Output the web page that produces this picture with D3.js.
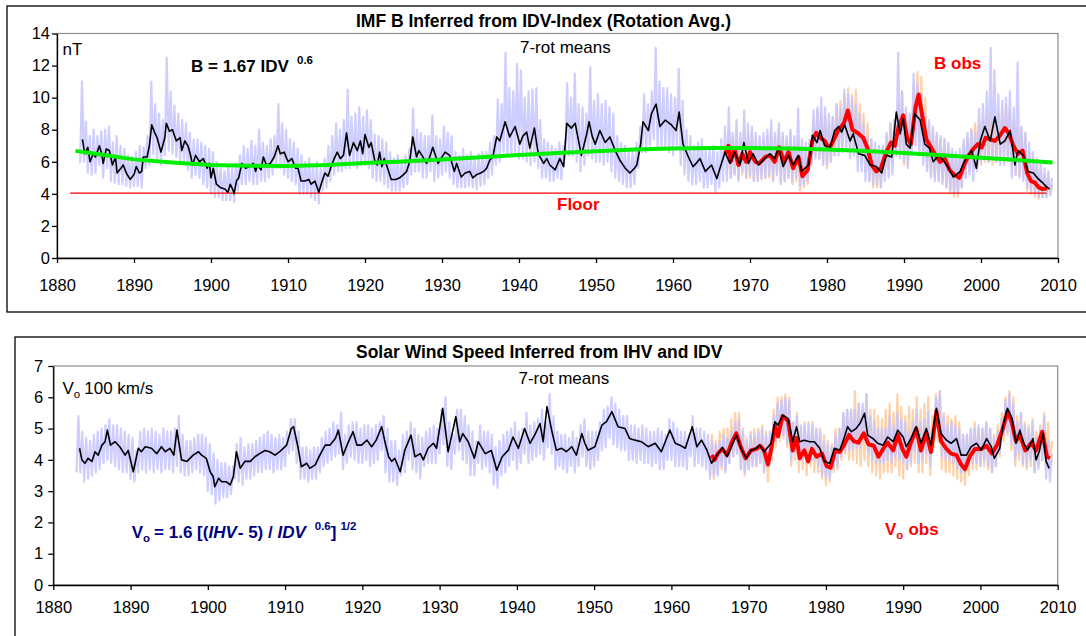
<!DOCTYPE html>
<html><head><meta charset="utf-8">
<script src="https://cdn.jsdelivr.net/npm/d3@7"></script>
<style>
html,body{margin:0;padding:0;background:#fff;}
svg{display:block;font-family:"Liberation Sans",Arial,sans-serif;}
</style></head>
<body><svg id="c" width="1086" height="636"></svg>
<script>
// ---------------- DATA ----------------
const xTicks = [1880,1890,1900,1910,1920,1930,1940,1950,1960,1970,1980,1990,2000,2010];
const yTicksTop = [0,2,4,6,8,10,12,14];
const yTicksBot = [0,1,2,3,4,5,6,7];

// Top: per-rotation inferred B (light blue), half-year steps from 1883.0: low / high
const topBlueStart = 1883;
const topBlueHi = [
 11.0,8.5, 7.6,8.0, 7.6,7.9, 8.0,8.2, 7.2,7.6,
 7.0,6.8, 6.4,6.3, 6.6,7.0, 6.9,7.6, 11.0,9.6,
 9.0,8.6, 12.5,10.4, 9.5,9.0, 8.6,8.4, 7.8,7.4,
 7.4,7.2, 7.0,6.8, 6.6,6.0, 5.6,5.4, 5.8,5.6,
 5.9,6.4, 7.0,6.8, 7.3,7.0, 8.0,7.2, 7.0,7.4,
 7.6,9.6, 8.4,8.0, 7.4,7.2, 6.8,6.4, 6.0,6.2,
 5.8,6.0, 5.6,6.2, 7.0,7.6, 8.4,8.0, 8.6,10.5,
 8.8,9.0, 9.4,8.8, 9.2,8.6, 7.7,7.6, 7.4,7.2,
 6.6,6.2, 6.4,6.0, 6.4,6.8, 9.3,8.0, 7.8,7.6,
 7.6,8.9, 7.6,7.4, 8.2,7.8, 7.6,6.6, 6.4,6.8,
 6.4,6.6, 6.2,6.5, 6.6,6.6, 7.2,7.6, 9.9,9.6,
 12.8,10.6, 10.4,12.1, 11.7,10.0, 10.4,10.5, 10.6,8.6,
 7.4,7.2, 7.0,6.8, 7.2,7.0, 10.9,10.0, 11.5,9.6,
 9.4,9.0, 11.9,9.8, 10.2,9.6, 9.8,9.4, 9.0,7.6,
 7.2,7.0, 6.8,6.6, 7.2,8.2, 10.2,9.6, 10.4,13.1,
 11.0,10.6, 10.6,10.2, 10.0,11.8, 9.8,8.0, 7.6,7.0,
 7.2,7.4, 6.8,6.8, 7.0,6.6, 7.4,8.2, 9.4,7.8,
 8.6,7.8, 9.2,8.4, 8.2,7.8, 7.6,7.8, 8.0,8.6,
 7.8,8.4, 7.8,7.6, 8.0,7.6, 9.3,7.4, 7.2,7.4,
 9.2,9.4, 10.0,9.4, 9.0,8.8, 9.6,9.4, 10.5,10.2,
 10.0,9.6, 9.0,8.4, 7.6,7.4, 7.2,7.0, 7.0,7.8,
 8.4,8.6, 12.8,10.4, 9.4,9.0, 11.5,10.9, 10.2,9.0,
 8.6,8.2, 7.8,7.6, 7.4,7.2, 6.8,6.6, 6.8,7.4,
 7.8,8.0, 7.8,9.3, 9.6,10.4, 13.1,11.7, 10.2,9.8,
 10.0,10.4, 9.4,12.2, 8.2,7.8, 7.2,6.6, 6.2,6.0,
 5.6,5.4, 5.0
];
const topBlueLo = [
 5.9,6.0, 5.3,5.2, 5.3,5.8, 5.0,5.6, 4.8,4.7,
 4.6,4.6, 4.5,4.4, 4.5,4.5, 4.4,5.6, 5.8,6.5,
 6.2,5.8, 6.4,6.7, 6.5,6.3, 6.0,6.0, 5.5,5.0,
 5.2,5.0, 4.6,4.4, 4.0,3.8, 3.8,3.6, 3.6,3.6,
 3.5,4.2, 4.6,4.6, 4.8,4.6, 4.6,4.8, 4.8,5.0,
 5.2,5.6, 5.6,5.2, 5.0,4.8, 4.6,4.0, 4.0,4.0,
 3.8,3.6, 3.4,4.2, 4.4,4.8, 5.2,5.4, 5.4,5.6,
 5.6,5.8, 5.6,5.8, 5.8,5.6, 5.0,4.8, 4.8,4.6,
 4.4,4.2, 4.2,4.2, 4.4,4.6, 5.2,5.4, 5.4,5.0,
 5.0,5.4, 4.8,5.0, 5.2,5.4, 5.0,4.6, 4.4,4.4,
 4.4,4.5, 4.4,4.3, 4.5,4.6, 5.0,5.2, 5.8,6.0,
 6.6,6.4, 6.4,6.6, 6.2,6.2, 6.0,5.8, 6.0,5.6,
 5.0,5.0, 4.8,4.8, 5.0,4.9, 6.2,6.4, 6.4,6.0,
 5.4,5.8, 6.4,6.2, 6.0,6.0, 5.8,6.0, 5.4,5.0,
 4.8,4.6, 4.4,4.4, 4.6,5.6, 6.6,6.6, 7.0,7.4,
 6.8,6.8, 6.8,6.6, 6.4,7.0, 5.8,5.2, 4.8,4.6,
 4.6,4.8, 4.4,4.4, 4.6,4.1, 4.4,4.8, 4.8,5.0,
 5.2,4.8, 5.4,5.0, 5.2,4.8, 4.8,5.0, 5.0,5.2,
 4.8,5.2, 4.6,4.8, 5.0,4.8, 5.0,4.5, 4.6,4.8,
 5.8,6.2, 6.2,5.8, 5.8,6.0, 6.4,6.4, 6.6,6.8,
 6.2,6.4, 5.4,5.4, 4.8,4.8, 4.6,4.6, 4.4,4.8,
 5.0,5.2, 6.4,6.2, 6.0,5.6, 6.4,7.0, 6.4,5.8,
 5.4,5.0, 4.8,4.8, 4.6,4.4, 4.2,4.0, 4.0,4.4,
 5.0,5.2, 4.8,5.4, 6.0,6.2, 6.0,6.2, 6.0,5.8,
 5.8,6.0, 5.0,5.2, 5.0,4.8, 4.4,4.2, 4.0,3.8,
 3.8,3.8, 3.9
];
// Top: per-rotation observed B (light orange), half-year steps from 1967.0
const topOrangeStart = 1967;
const topOrangeHi = [
 8.0,7.6, 7.8,7.4, 8.0,7.6, 7.8,7.4, 7.2,7.4,
 7.6,7.8, 7.6,8.0, 7.6,7.4, 7.8,7.0, 7.4,6.6,
 6.8,7.2, 8.6,9.2, 9.0,8.8, 8.4,8.8, 9.6,9.8,
 10.2,10.6, 10.2,10.5, 9.6,9.0, 8.4,7.4, 6.8,6.6,
 6.8,7.6, 8.4,8.6, 9.6,10.4, 9.0,8.6, 10.8,11.6,
 11.3,10.0, 8.4,8.0, 7.6,7.4, 7.4,7.0, 6.6,6.4,
 6.4,7.0, 7.6,8.0, 8.4,8.6, 8.6,9.0, 9.0,8.8,
 9.0,9.4, 9.6,9.4, 8.6,8.2, 8.0,7.8, 6.6,6.2,
 5.8,5.4, 5.2,5.0, 4.6
];
const topOrangeLo = [
 5.2,5.0, 5.2,4.9, 5.2,5.0, 5.0,4.8, 4.8,4.9,
 5.0,5.0, 4.8,5.2, 4.8,4.8, 5.0,4.6, 4.8,4.2,
 4.4,4.6, 6.0,6.4, 6.2,6.0, 5.6,6.0, 6.4,6.6,
 7.0,7.2, 6.8,6.6, 6.2,6.0, 5.4,4.8, 4.4,4.4,
 4.4,5.2, 5.6,5.8, 6.4,6.8, 5.8,5.8, 7.0,8.0,
 7.0,6.4, 5.6,5.2, 5.0,4.8, 4.8,4.4, 4.0,3.8,
 3.8,4.4, 5.0,5.4, 5.6,5.6, 5.8,6.0, 6.0,5.8,
 6.0,6.2, 6.6,6.2, 5.6,5.2, 5.2,5.0, 4.2,4.0,
 3.8,3.7, 3.8,3.8, 4.0
];
// Top: 7-rotation means of inferred B (black)
const topMeanYears = [1883.3,1883.6,1884.0,1884.3,1884.7,1885.0,1885.5,1885.8,1886.0,1886.4,1886.8,1887.2,1887.6,1887.8,1888.3,1888.6,1889.0,1889.5,1890.0,1890.3,1890.7,1891.0,1891.2,1891.7,1892.0,1892.3,1892.7,1893.0,1893.5,1894.0,1894.2,1894.6,1895.0,1895.5,1896.0,1896.2,1896.6,1897.0,1897.3,1897.6,1898.0,1898.5,1899.0,1899.5,1899.8,1900.0,1900.3,1900.7,1901.2,1901.8,1902.2,1902.5,1902.8,1903.0,1903.3,1903.6,1904.0,1904.5,1905.0,1905.5,1905.8,1906.0,1906.5,1906.8,1907.2,1907.7,1908.2,1908.7,1909.0,1909.5,1910.0,1910.5,1911.0,1911.3,1911.7,1912.2,1912.7,1913.0,1913.5,1914.0,1914.3,1914.8,1915.2,1915.6,1916.0,1916.4,1916.8,1917.2,1917.6,1918.0,1918.5,1919.0,1919.4,1919.7,1920.0,1920.5,1920.8,1921.3,1921.6,1921.9,1922.2,1922.5,1923.0,1923.4,1924.0,1924.5,1925.0,1925.4,1925.8,1926.2,1926.7,1927.0,1927.4,1928.0,1928.4,1928.8,1929.5,1930.0,1930.4,1931.0,1931.6,1931.9,1932.5,1933.0,1933.6,1934.0,1934.5,1935.0,1935.4,1935.8,1936.2,1936.6,1937.1,1937.5,1938.2,1938.8,1939.5,1940.1,1940.5,1941.0,1941.4,1942.0,1942.5,1943.2,1943.6,1944.0,1944.7,1945.3,1945.8,1946.2,1946.8,1947.3,1947.7,1948.1,1948.8,1949.1,1949.5,1949.9,1950.5,1951.2,1951.8,1952.5,1953.1,1953.8,1954.4,1955.0,1955.3,1955.8,1956.1,1956.8,1957.2,1957.8,1958.3,1959.0,1959.8,1960.4,1960.8,1961.3,1962.0,1962.6,1963.0,1963.5,1964.2,1965.0,1965.7,1966.1,1966.75,1967.4,1968.0,1968.7,1969.2,1969.8,1970.4,1971.1,1971.9,1972.6,1973.2,1973.7,1974.3,1975.0,1975.6,1976.3,1976.7,1977.6,1978.1,1978.7,1979.1,1979.7,1980.4,1981.0,1981.5,1981.9,1982.3,1983.0,1983.4,1984.1,1984.9,1985.6,1986.4,1987.1,1987.7,1988.4,1989.0,1989.5,1989.9,1990.3,1990.8,1991.4,1992.1,1992.7,1993.3,1993.8,1994.5,1995.1,1995.8,1996.4,1997.3,1997.9,1998.8,1999.4,1999.9,2000.5,2001.2,2001.8,2002.5,2003.1,2003.8,2004.4,2004.8,2005.5,2006.1,2006.8,2007.4,2008.1,2008.5,2008.9];
const topMeanB = [7.4,6.5,6.9,6.0,6.5,6.3,7.0,6.5,5.9,6.8,6.7,5.8,6.3,5.3,5.6,5.8,5.3,4.9,5.2,5.7,5.3,5.4,6.3,6.3,7.0,8.3,7.8,7.5,6.6,7.5,8.4,7.9,8.0,7.3,7.5,6.7,7.3,7.0,6.5,5.8,6.4,6.0,6.2,5.6,5.9,5.0,5.6,4.6,4.4,4.3,4.1,4.6,4.3,4.0,4.8,5.0,5.9,5.6,5.7,5.9,5.4,5.8,5.5,6.3,5.8,5.9,6.3,7.0,6.5,6.6,6.0,6.2,5.6,5.6,4.8,4.8,4.9,4.6,4.8,4.1,4.6,5.3,5.1,5.7,6.2,6.6,6.2,6.4,7.8,6.4,7.2,6.7,7.3,6.5,7.7,6.9,7.2,6.0,5.8,6.6,5.7,6.2,5.5,4.9,4.9,5.0,5.2,5.4,6.0,7.55,6.3,6.7,6.4,5.9,6.3,6.9,5.9,6.3,6.6,6.4,5.4,5.9,5.05,5.3,5.4,5.0,5.2,5.3,5.4,5.6,6.1,6.3,7.55,7.3,8.5,7.55,8.2,7.1,7.6,7.85,6.85,8.1,6.5,5.9,6.2,5.8,5.5,6.2,5.7,8.4,8.1,8.4,7.4,6.4,7.75,8.5,7.6,7.1,7.95,7.2,7.55,6.7,6.1,5.6,5.3,5.6,5.8,7.1,8.5,7.95,9.0,9.6,8.2,8.6,8.3,7.95,9.1,7.1,6.3,5.7,5.9,6.2,5.4,5.8,4.95,5.6,6.6,5.9,6.6,5.8,7.2,5.9,6.5,5.8,6.2,6.5,6.2,6.85,5.7,6.4,5.8,6.4,5.4,5.8,7.65,7.2,7.95,7.0,6.9,7.95,8.2,7.85,8.3,7.3,7.75,6.5,6.4,5.8,5.7,5.3,6.4,6.3,9.1,7.75,8.7,7.1,6.85,9.0,8.6,7.1,6.85,6.0,6.4,6.1,5.6,5.05,5.4,6.1,6.7,5.6,7.3,8.2,7.3,8.8,7.1,7.3,7.95,5.8,6.7,6.4,5.4,5.3,4.95,4.65,4.45,4.3];
// Top: 7-rotation means of observed B (red)
const topObsYears = [1966.8,1967.2,1967.5,1968.0,1968.5,1969.0,1969.5,1970.0,1970.7,1971.2,1972.0,1972.6,1973.2,1973.8,1974.4,1975.0,1975.6,1976.3,1976.8,1977.5,1978.1,1978.6,1979.1,1979.7,1980.3,1980.9,1981.5,1982.2,1982.7,1983.3,1984.0,1984.7,1985.3,1985.8,1986.4,1987.0,1987.7,1988.3,1988.8,1989.3,1989.9,1990.4,1990.9,1991.5,1991.9,1992.4,1992.9,1993.5,1994.1,1994.7,1995.3,1995.9,1996.5,1997.2,1997.8,1998.4,1999.0,1999.6,2000.1,2000.6,2001.2,2001.8,2002.4,2003.1,2003.6,2004.2,2004.8,2005.4,2006.0,2006.5,2007.0,2007.5,2008.0,2008.6];
const topObsB = [6.5,7.0,6.0,6.8,5.8,6.5,6.0,6.6,6.0,5.9,6.3,6.4,6.0,6.9,6.0,6.6,5.6,6.3,5.1,5.5,7.3,7.8,7.5,7.3,6.8,7.4,8.0,8.4,9.2,8.0,7.8,7.5,6.8,5.8,5.4,5.6,6.6,7.2,7.0,8.2,8.9,7.5,7.1,9.4,10.2,8.8,7.4,6.9,6.4,6.0,6.2,5.5,5.2,5.0,5.8,6.4,6.8,7.1,6.9,7.5,7.4,7.3,7.6,8.1,7.8,7.0,6.5,6.7,5.3,4.8,4.7,4.4,4.3,4.35];
// Top: smooth long-term trend (green)
const topTrendYears = [1882.4,1885,1890,1895,1900,1905,1910,1915,1920,1925,1930,1935,1940,1945,1950,1955,1960,1965,1970,1975,1980,1985,1990,1995,2000,2005,2009.3];
const topTrendB = [6.68,6.5,6.15,5.95,5.8,5.75,5.74,5.8,5.93,6.02,6.15,6.28,6.42,6.55,6.66,6.76,6.83,6.86,6.86,6.83,6.76,6.68,6.55,6.4,6.25,6.1,5.95];
// Top: floor
const floorYears = [1881.7, 2008.5];
const floorB = [4.05, 4.05];

// Bottom: per-rotation inferred V (light blue), half-year steps from 1883.0
const botBlueStart = 1883;
const botBlueHi = [
 5.4,4.9, 4.7,4.6, 4.8,4.9, 5.0,5.1, 5.3,5.1,
 5.1,5.0, 4.9,4.8, 4.7,4.3, 4.9,5.0, 4.9,5.0,
 4.9,4.8, 5.0,4.9, 4.9,5.0, 5.4,4.8, 4.6,4.6,
 4.7,4.8, 4.8,4.7, 4.5,4.2, 4.0,3.9, 3.9,3.8,
 3.8,4.5, 4.7,4.4, 4.5,4.5, 4.6,4.7, 4.8,4.9,
 4.8,4.7, 4.8,4.7, 4.9,5.3, 5.3,4.9, 4.4,4.4,
 4.3,4.4, 4.4,4.7, 4.9,5.0, 5.2,5.1, 5.5,4.8,
 5.1,5.2, 5.2,5.0, 5.1,5.1, 5.0,5.1, 5.2,5.4,
 5.0,4.6, 4.6,4.3, 4.8,4.9, 5.2,5.0, 4.8,4.7,
 4.9,5.0, 5.1,5.0, 5.6,6.0, 5.2,4.8, 5.6,5.6,
 5.4,5.1, 4.9,4.6, 5.1,4.9, 4.9,4.8, 4.4,4.6,
 4.8,4.9, 5.0,5.2, 4.9,5.0, 5.5,5.1, 5.2,5.3,
 5.6,5.2, 6.1,5.4, 4.9,4.8, 4.8,4.7, 4.9,4.7,
 5.1,5.3, 4.9,4.9, 4.9,5.2, 5.6,5.7, 6.0,5.8,
 5.6,5.4, 5.4,5.1, 5.1,5.0, 5.1,5.0, 4.9,4.9,
 5.0,4.9, 4.8,5.3, 5.2,5.0, 4.9,4.9, 4.8,5.4,
 5.0,5.0, 4.9,4.8, 4.6,4.5, 4.6,4.8, 4.7,4.9,
 5.2,5.3, 4.9,4.6, 4.8,4.8, 4.9,5.0, 4.8,4.9,
 5.4,5.8, 5.9,6.0, 5.9,5.2, 5.4,5.1, 5.1,5.2,
 5.1,5.0, 4.9,4.6, 4.5,4.4, 4.8,5.0, 5.5,5.6,
 5.6,5.6, 5.8,5.8, 6.1,5.4, 5.2,5.0, 5.0,5.0,
 5.4,5.1, 5.5,5.3, 5.2,4.9, 5.2,5.6, 5.2,5.3,
 5.5,5.0, 6.0,6.2, 5.4,5.1, 5.2,5.1, 5.0,4.8,
 4.8,5.0, 5.0,5.1, 5.0,5.2, 5.0,4.7, 4.9,5.3,
 5.9,6.1, 5.8,5.2, 5.5,5.1, 5.0,5.2, 4.7,5.0,
 5.4,4.6, 4.2
];
const botBlueLo = [
 3.6,3.6, 3.3,3.4, 3.5,3.6, 3.7,3.9, 4.0,3.9,
 3.8,3.7, 3.6,3.6, 3.4,3.3, 3.6,3.7, 3.6,3.7,
 3.6,3.7, 3.6,3.7, 3.7,3.6, 3.8,3.6, 3.5,3.5,
 3.6,3.7, 3.6,3.5, 3.0,2.9, 2.6,2.7, 2.8,2.8,
 2.9,3.4, 3.3,3.2, 3.4,3.4, 3.5,3.6, 3.6,3.7,
 3.7,3.6, 3.7,3.7, 3.8,4.2, 4.3,3.9, 3.4,3.4,
 3.3,3.4, 3.4,3.6, 3.8,3.9, 4.0,4.1, 4.2,3.7,
 3.9,4.1, 4.0,3.9, 3.9,4.0, 3.8,3.9, 4.0,4.3,
 3.6,3.3, 3.3,3.2, 3.5,3.6, 4.0,3.7, 3.6,3.4,
 3.8,3.9, 3.9,3.9, 4.2,4.5, 3.8,3.7, 4.2,4.3,
 4.0,3.9, 3.5,3.5, 3.9,3.7, 3.8,3.6, 3.2,3.1,
 3.5,3.6, 3.8,4.0, 3.7,3.9, 4.2,3.9, 4.0,4.1,
 4.2,4.0, 4.4,4.2, 3.7,3.8, 3.7,3.6, 3.8,3.6,
 3.8,4.1, 3.8,3.7, 3.8,4.0, 4.3,4.4, 4.7,4.5,
 4.4,4.3, 4.3,4.0, 4.0,3.9, 4.0,3.9, 3.9,3.8,
 3.9,3.7, 3.7,4.0, 4.0,3.8, 3.8,3.8, 3.7,4.1,
 3.8,3.9, 3.8,3.7, 3.4,3.5, 3.5,3.8, 3.6,3.9,
 4.1,4.2, 3.7,3.6, 3.7,3.8, 3.8,3.9, 3.6,3.8,
 4.2,4.6, 4.8,4.8, 4.5,4.0, 4.2,4.0, 4.0,4.1,
 4.0,4.0, 3.8,3.5, 3.4,3.4, 3.7,3.8, 4.1,4.3,
 4.3,4.3, 4.4,4.4, 4.6,4.2, 4.0,3.9, 3.9,3.9,
 4.0,3.9, 4.1,4.0, 3.9,3.7, 3.9,4.3, 3.9,4.0,
 4.2,3.8, 4.7,5.0, 4.1,4.0, 4.0,3.9, 3.7,3.6,
 3.6,3.8, 3.9,3.9, 3.8,4.0, 3.8,3.6, 3.8,4.2,
 4.8,4.9, 4.5,4.0, 4.2,3.9, 3.8,4.0, 3.6,3.7,
 4.0,3.4, 3.3
];
// Bottom: per-rotation observed V (light orange), half-year steps from 1965.0
const botOrangeStart = 1965;
const botOrangeHi = [
 4.8,4.6, 4.9,5.0, 5.0,5.3, 5.5,5.5, 5.0,4.7,
 4.9,5.0, 5.0,5.1, 4.9,4.6, 5.6,6.0, 6.0,6.1,
 6.0,5.2, 5.5,5.0, 5.2,4.8, 5.2,5.0, 5.0,4.8,
 4.6,4.5, 5.0,5.0, 5.5,5.6, 5.6,6.2, 5.8,5.6,
 6.1,5.6, 5.6,5.4, 5.3,5.6, 5.8,5.5, 6.1,5.7,
 5.4,5.7, 5.6,6.0, 5.6,5.8, 6.0,5.4, 6.1,6.2,
 5.5,5.4, 5.3,5.4, 5.2,4.8, 4.8,5.0, 5.2,5.0,
 5.0,5.2, 5.0,4.8, 5.1,5.5, 6.0,6.2, 6.0,5.4,
 5.5,5.2, 5.1,5.3, 4.9,5.1, 5.5,5.2, 4.6
];
const botOrangeLo = [
 3.5,3.4, 3.6,3.7, 3.7,3.9, 4.1,4.2, 3.7,3.5,
 3.7,3.8, 3.8,3.9, 3.6,3.3, 4.0,4.4, 4.6,4.7,
 4.4,3.8, 4.0,3.6, 3.7,3.5, 3.8,3.6, 3.6,3.4,
 3.2,3.3, 3.6,3.7, 4.0,4.2, 4.0,4.0, 3.9,3.8,
 4.0,3.8, 3.6,3.5, 3.4,3.6, 3.6,3.6, 3.8,3.5,
 3.4,3.7, 3.8,3.9, 3.6,3.6, 3.9,3.5, 4.4,4.6,
 3.7,3.6, 3.6,3.5, 3.4,3.3, 3.2,3.5, 3.7,3.7,
 3.8,3.8, 3.7,3.6, 3.8,4.1, 4.6,4.8, 4.3,3.8,
 4.0,3.8, 3.7,3.8, 3.6,3.8, 4.0,3.8, 3.8
];
// Bottom: 7-rotation means of inferred V (black)
const botMeanYears = [1883.4,1883.7,1884.1,1884.5,1885.0,1885.4,1885.8,1886.3,1886.7,1887.0,1887.4,1888.0,1888.6,1889.3,1889.7,1890.35,1891.0,1891.4,1891.9,1892.7,1893.4,1894.0,1894.5,1895.1,1895.6,1896.0,1896.6,1897.3,1898.1,1898.8,1899.2,1899.8,1900.3,1900.7,1900.9,1901.4,1901.8,1902.4,1902.9,1903.3,1903.7,1904.2,1904.8,1905.5,1906.1,1906.7,1907.4,1908.0,1908.7,1909.3,1910.2,1910.8,1911.1,1911.7,1912.1,1912.8,1913.2,1913.9,1914.5,1915.2,1915.8,1916.5,1916.9,1917.5,1918.2,1918.8,1919.3,1919.9,1920.6,1921.2,1921.8,1922.5,1923.0,1923.4,1923.8,1924.2,1924.9,1925.5,1926.3,1926.8,1927.5,1927.9,1928.5,1929.2,1929.6,1930.4,1931.1,1932.1,1932.6,1933.0,1933.7,1934.5,1935.0,1935.9,1936.7,1937.4,1938.1,1938.9,1939.5,1940.2,1941.0,1941.7,1942.3,1943.0,1943.4,1943.9,1944.5,1945.1,1945.8,1946.4,1947.1,1947.7,1948.4,1948.8,1949.2,1950.1,1951.0,1951.6,1952.3,1953.1,1954.0,1954.6,1955.3,1956.1,1957.0,1957.9,1958.7,1959.8,1960.5,1961.1,1961.8,1962.7,1963.3,1963.9,1964.6,1965.2,1965.9,1966.6,1967.2,1967.7,1968.4,1969.0,1969.7,1970.3,1971.0,1971.4,1972.0,1972.9,1973.4,1973.8,1974.4,1975.1,1975.7,1976.2,1976.6,1977.2,1977.9,1978.5,1979.2,1979.8,1980.5,1981.1,1981.8,1982.4,1982.8,1983.3,1983.9,1984.4,1985.0,1985.4,1986.1,1986.7,1987.4,1988.0,1988.7,1989.3,1990.0,1990.4,1991.0,1991.7,1992.3,1993.0,1993.6,1994.3,1994.9,1995.6,1996.2,1996.9,1997.5,1998.2,1998.8,1999.5,2000.1,2000.8,2001.4,2001.8,2002.5,2002.9,2003.5,2004.1,2004.6,2005.1,2005.6,2006.1,2006.8,2007.2,2007.6,2008.1,2008.5,2008.9];
const botMeanV = [4.37,4.0,3.89,4.05,3.95,4.26,4.15,4.47,4.58,4.95,4.47,4.58,4.42,4.15,4.3,3.62,4.37,4.26,4.42,4.37,4.2,4.42,4.26,4.37,4.15,4.95,4.0,3.95,4.15,4.26,4.15,4.05,3.62,3.46,3.14,3.41,3.3,3.3,3.2,3.46,4.26,3.73,3.95,3.95,4.1,4.2,4.3,4.26,4.15,4.26,4.47,5.0,5.06,4.37,3.78,3.89,3.73,3.84,4.15,4.47,4.47,4.68,4.95,4.15,4.58,4.9,4.47,4.47,4.63,4.42,4.63,5.06,4.5,4.1,3.95,4.05,3.62,4.31,4.79,4.1,4.2,4.0,4.37,4.53,4.37,5.65,4.26,5.38,4.58,4.84,4.58,4.05,4.58,4.2,4.3,3.67,4.1,4.31,4.73,4.37,5.0,4.53,4.79,5.16,4.58,5.7,4.95,4.31,4.37,4.26,4.42,4.15,4.84,4.53,4.31,4.42,5.11,5.22,5.54,5.06,5.0,4.68,4.63,4.58,4.42,4.53,4.26,4.95,4.53,4.47,4.37,5.06,4.42,4.63,4.31,3.89,4.15,4.4,4.1,4.37,4.79,4.37,4.05,4.31,4.37,4.47,4.26,4.53,5.22,5.11,5.43,5.32,4.58,5.06,4.58,4.63,4.58,4.58,4.37,3.95,3.89,4.37,4.31,4.73,5.06,4.9,5.0,5.16,5.49,4.79,4.68,4.53,4.47,4.73,4.58,4.95,4.73,4.42,4.68,5.06,4.53,5.0,4.47,5.65,4.84,4.63,4.53,4.68,4.15,4.15,4.42,4.53,4.31,4.68,4.42,4.05,4.37,5.06,5.65,5.32,4.53,4.95,4.53,4.31,4.68,4.0,4.26,4.84,3.95,3.73];
// Bottom: 7-rotation means of observed V (red)
const botObsYears = [1965.2,1965.6,1966.0,1966.6,1967.2,1967.8,1968.4,1969.0,1969.6,1970.3,1971.0,1971.5,1972.0,1972.5,1973.0,1973.4,1973.8,1974.4,1975.1,1975.7,1976.2,1976.6,1977.2,1977.7,1978.2,1978.8,1979.5,1980.1,1980.6,1981.2,1981.8,1982.4,1983.0,1983.6,1984.2,1984.9,1985.5,1986.2,1986.8,1987.4,1988.0,1988.7,1989.3,1989.9,1990.4,1991.0,1991.7,1992.3,1993.0,1993.6,1994.3,1994.9,1995.6,1996.2,1996.9,1997.5,1998.0,1998.6,1999.3,2000.1,2000.8,2001.5,2002.2,2002.9,2003.5,2004.0,2004.6,2005.1,2005.8,2006.6,2007.2,2008.0,2008.6,2009.0];
const botObsV = [4.15,4.0,4.2,4.35,4.15,4.55,4.85,4.4,4.05,4.3,4.35,4.45,4.3,3.85,4.45,5.1,4.75,5.4,5.25,4.3,4.7,4.05,4.3,3.95,4.35,4.1,4.2,3.8,3.75,4.3,4.25,4.5,4.8,4.6,4.55,4.85,4.5,4.45,4.1,4.35,4.55,4.3,4.8,4.35,4.1,4.55,5.0,4.3,4.85,4.25,5.55,4.6,4.35,4.2,4.15,3.85,3.7,4.1,4.35,4.35,4.45,4.2,4.5,5.0,5.55,5.25,4.6,4.8,4.3,4.55,4.3,4.9,4.1,4.05];

// ---------------- DRAWING ----------------
const svg = d3.select("#c");
const FONT = '"Liberation Sans", Arial, sans-serif';
const COL = {blue:"#c6c6ff", orange:"#ffd2aa", red:"#ff0000", green:"#00ee00", black:"#000", navy:"#000080"};

function zig(start, hi, lo) {
  const pts = [];
  for (let i = 0; i < hi.length; i++) {
    const t = start + i * 0.5;
    pts.push([t, lo[i]]);
    pts.push([t + 0.25, hi[i]]);
  }
  return pts;
}
function pairs(xs, ys) { return xs.map((x, i) => [x, ys[i]]); }

// panel frames
svg.append("rect").attr("x", 7).attr("y", 6).attr("width", 1200).attr("height", 306)
  .attr("fill", "none").attr("stroke", "#000").attr("stroke-width", 1.3);
svg.append("rect").attr("x", 15).attr("y", 337).attr("width", 1200).attr("height", 400)
  .attr("fill", "none").attr("stroke", "#000").attr("stroke-width", 1.3);

function panel(cfg) {
  const g = svg.append("g");
  const x = d3.scaleLinear().domain([1880, 2010]).range([cfg.x0, cfg.x1]);
  const y = d3.scaleLinear().domain(cfg.yDomain).range([cfg.y0, cfg.y1]);
  g.append("rect").attr("x", cfg.x0).attr("y", cfg.y1).attr("width", cfg.x1 - cfg.x0)
    .attr("height", cfg.y0 - cfg.y1).attr("fill", "none").attr("stroke", "#8c8c8c").attr("stroke-width", 1.2);
  const line = d3.line().x(d => x(d[0])).y(d => y(d[1]));
  const draw = (data, color, w, op) => g.append("path").attr("d", line(data)).attr("fill", "none")
      .attr("stroke", color).attr("stroke-width", w).attr("stroke-linejoin", "round").attr("opacity", op || 1);
  cfg.layers(draw);
  const ax = g.append("g").attr("transform", `translate(0,${cfg.y0})`)
    .call(d3.axisBottom(x).tickValues(xTicks).tickFormat(d3.format("d")).tickSize(5).tickSizeOuter(0).tickPadding(cfg.xPad));
  const ay = g.append("g").attr("transform", `translate(${cfg.x0},0)`)
    .call(d3.axisLeft(y).tickValues(cfg.yTicks).tickFormat(d3.format("d")).tickSize(5).tickSizeOuter(0).tickPadding(cfg.yPad));
  [ax, ay].forEach(a => {
    a.selectAll("text").attr("font-family", FONT).attr("font-size", 16.5).attr("fill", "#000");
    a.selectAll("line").attr("stroke", "#000").attr("stroke-width", 1.3);
    a.select(".domain").attr("stroke", "#000").attr("stroke-width", 1.3);
  });
  return {x, y};
}

// ----- top panel -----
panel({
  x0: 57, x1: 1058, y0: 258, y1: 33.5, yDomain: [0, 14], yTicks: yTicksTop, xPad: 16, yPad: 2,
  layers: draw => {
    draw(zig(topOrangeStart, topOrangeHi, topOrangeLo), COL.orange, 2.2);
    draw(zig(topBlueStart, topBlueHi, topBlueLo), COL.blue, 2.2, 0.85);
    draw(pairs(floorYears, floorB), COL.red, 1.2);
    draw(pairs(topObsYears, topObsB), COL.red, 4);
    draw(pairs(topMeanYears, topMeanB), COL.black, 1.6);
    draw(pairs(topTrendYears, topTrendB), COL.green, 4);
  }
});
// ----- bottom panel -----
panel({
  x0: 53.3, x1: 1057.7, y0: 585, y1: 366, yDomain: [0, 7], yTicks: yTicksBot, xPad: 11, yPad: 5,
  layers: draw => {
    draw(zig(botOrangeStart, botOrangeHi, botOrangeLo), COL.orange, 2.2);
    draw(zig(botBlueStart, botBlueHi, botBlueLo), COL.blue, 2.2, 0.85);
    draw(pairs(botObsYears, botObsV), COL.red, 4);
    draw(pairs(botMeanYears, botMeanV), COL.black, 1.6);
  }
});

// ----- texts -----
function txt(x, y, s, opt) {
  opt = opt || {};
  return svg.append("text").attr("x", x).attr("y", y).text(s)
    .attr("font-family", FONT).attr("font-size", opt.size || 17)
    .attr("font-weight", opt.bold ? "bold" : "normal")
    .attr("fill", opt.fill || "#000").attr("text-anchor", opt.anchor || "start");
}
txt(356, 26.5, "IMF B Inferred from IDV-Index (Rotation Avg.)", {bold: true, size: 17.5});
txt(62.5, 55, "nT");
txt(520, 53, "7-rot means");
txt(191, 71.5, "B = 1.67 IDV", {bold: true});
txt(297, 64, "0.6", {bold: true, size: 11.5});
txt(934, 68.5, "B obs", {bold: true, fill: COL.red});
txt(557, 209.5, "Floor", {bold: true, fill: COL.red});

txt(356, 358, "Solar Wind Speed Inferred from IHV and IDV", {bold: true, size: 17.5});
txt(518.5, 383.5, "7-rot means");
{
  const t = txt(62.5, 393.5, "");
  t.append("tspan").text("V");
  t.append("tspan").attr("font-size", 11.5).attr("dy", 4).text("o");
  t.append("tspan").attr("dy", -4).attr("dx", 4).text("100 km/s");
}
{
  const t = txt(131.7, 538, "", {bold: true, fill: COL.navy});
  t.append("tspan").text("V");
  t.append("tspan").attr("font-size", 11.5).attr("dy", 4).text("o");
  t.append("tspan").attr("dy", -4).attr("dx", 4).text("= 1.6 [(");
  t.append("tspan").attr("font-style", "italic").text("IHV");
  t.append("tspan").attr("dx", 1).text("- 5) / ");
  t.append("tspan").attr("font-style", "italic").text("IDV");
  t.append("tspan").attr("font-size", 11.5).attr("dy", -8).attr("dx", 9).text("0.6");
  t.append("tspan").attr("dy", 8).text("]");
  t.append("tspan").attr("font-size", 11.5).attr("dy", -8).attr("dx", 4).text("1/2");
}
{
  const t = txt(885, 535, "", {bold: true, fill: COL.red});
  t.append("tspan").text("V");
  t.append("tspan").attr("font-size", 11.5).attr("dy", 4).text("o");
  t.append("tspan").attr("dy", -4).attr("dx", 5).text("obs");
}
</script></body></html>
